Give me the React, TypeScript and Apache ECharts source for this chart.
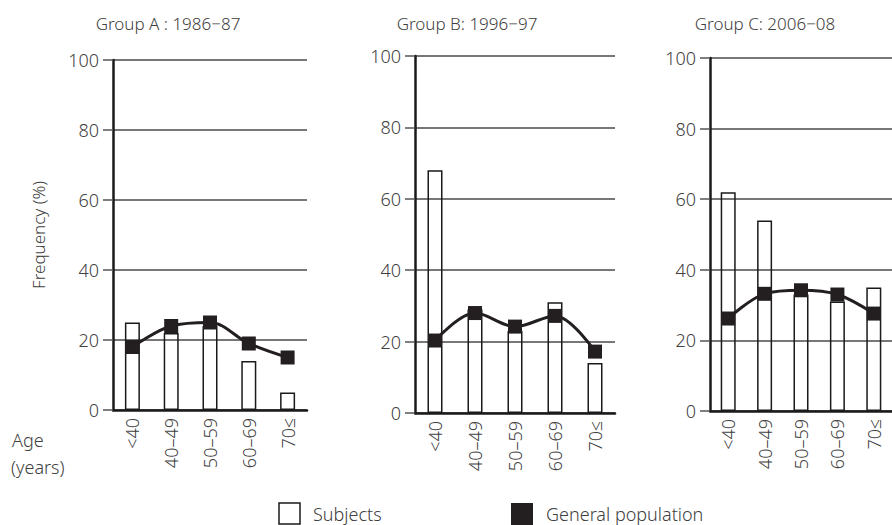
import React, { useEffect, useRef } from "react";
import * as echarts from "echarts";

const categories = ["<40", "40–49", "50–59", "60–69", "70≤"];
const groupTitles = ["Group A : 1986−87", "Group B: 1996−97", "Group C: 2006−08"];
const subjectsA = [25, 22, 24, 14, 5];
const generalA = [18, 24, 25, 19, 15];
const subjectsB = [68, 29, 23, 31, 14];
const generalB = [20.3, 28, 24.2, 27.2, 17.2];
const subjectsC = [62, 54, 33, 31, 35];
const generalC = [26.2, 33.2, 34.2, 33, 27.6];
const yTicks = { min: 0, max: 100, interval: 20 };

const FONT = "Noto Sans";
const TXT = "#404040";

export default function App() {
  const ref = useRef<HTMLDivElement>(null);
  useEffect(() => {
    if (!ref.current) return;
    const chart = echarts.init(ref.current, null, { renderer: "svg" });
    const grids = [
      { left: 113, top: 60, width: 194, height: 350 },
      { left: 415, top: 56, width: 200, height: 357 },
      { left: 710, top: 58, width: 193, height: 353 },
    ];
    const subjects = [subjectsA, subjectsB, subjectsC];
    const general = [generalA, generalB, generalC];
    const titleX = [168, 467, 765];
    const option: any = {
      animation: false,
      backgroundColor: "#fff",
      textStyle: { fontFamily: FONT },
      grid: grids,
      xAxis: grids.map((_, i) => ({
        type: "category",
        gridIndex: i,
        data: categories,
        axisLine: { lineStyle: { color: "#1a1a1a", width: 2.5 } },
        axisTick: { show: false },
        axisLabel: { rotate: 90, margin: 8, fontSize: 18, fontWeight: 300, color: TXT, fontFamily: FONT, interval: 0 },
      })),
      yAxis: grids.map((_, i) => ({
        type: "value",
        gridIndex: i,
        min: yTicks.min,
        max: yTicks.max,
        interval: yTicks.interval,
        axisLine: { show: true, lineStyle: { color: "#1a1a1a", width: 2.5 } },
        axisTick: { show: true, length: 10, lineStyle: { color: "#555", width: 1.5 } },
        splitLine: { show: true, lineStyle: { color: "#4a4a4a", width: 1.5 } },
        axisLabel: { margin: 14, fontSize: 18, fontWeight: 300, color: TXT, fontFamily: FONT },
      })),
      series: [
        ...subjects.map((d, i) => ({
          type: "bar",
          xAxisIndex: i,
          yAxisIndex: i,
          data: d,
          barWidth: 15,
          itemStyle: { color: "rgba(255,255,255,0)", borderColor: "#1a1a1a", borderWidth: 1.5 },
          z: 2,
        })),
        ...general.map((d, i) => ({
          type: "line",
          xAxisIndex: i,
          yAxisIndex: i,
          data: d,
          smooth: 0.35,
          symbol: "rect",
          symbolSize: 14,
          lineStyle: { color: "#231f20", width: 3 },
          itemStyle: { color: "#231f20" },
          z: 3,
        })),
      ],
      graphic: [
        ...groupTitles.map((t, i) => ({
          type: "text",
          x: titleX[i],
          y: 23,
          style: { text: t, fill: TXT, font: `300 17px "${FONT}"`, textAlign: "center", textVerticalAlign: "middle" },
        })),
        {
          type: "text",
          x: 38,
          y: 235,
          rotation: Math.PI / 2,
          style: { text: "Frequency (%)", fill: TXT, font: `300 17px "${FONT}"`, textAlign: "center", textVerticalAlign: "middle" },
        },
        {
          type: "text",
          x: 12,
          y: 440,
          style: { text: "Age", fill: TXT, font: `300 18px "${FONT}"`, textAlign: "left", textVerticalAlign: "middle" },
        },
        {
          type: "text",
          x: 11,
          y: 467,
          style: { text: "(years)", fill: TXT, font: `300 18px "${FONT}"`, textAlign: "left", textVerticalAlign: "middle" },
        },
        {
          type: "rect",
          shape: { x: 279, y: 503, width: 21, height: 21 },
          style: { fill: "#fff", stroke: "#1a1a1a", lineWidth: 1.5 },
        },
        {
          type: "text",
          x: 313,
          y: 514,
          style: { text: "Subjects", fill: TXT, font: `300 18px "${FONT}"`, textAlign: "left", textVerticalAlign: "middle" },
        },
        {
          type: "rect",
          shape: { x: 511, y: 503, width: 22, height: 22 },
          style: { fill: "#231f20" },
        },
        {
          type: "text",
          x: 546,
          y: 514,
          style: { text: "General population", fill: TXT, font: `300 18px "${FONT}"`, textAlign: "left", textVerticalAlign: "middle" },
        },
      ],
    };
    chart.setOption(option);
    return () => chart.dispose();
  }, []);
  return (
    <div
      ref={ref}
      style={{ position: "absolute", left: 0, top: 0, width: 892, height: 525 }}
    />
  );
}
